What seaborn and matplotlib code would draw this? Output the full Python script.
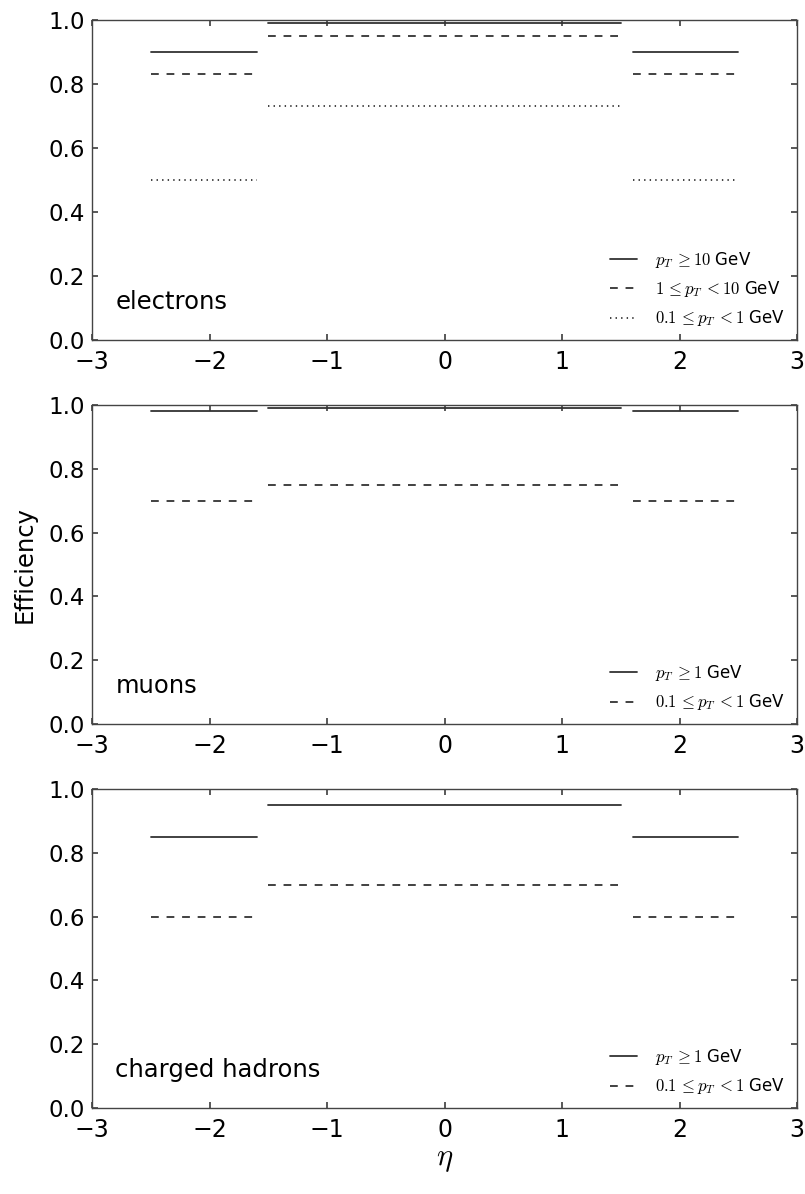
import numpy as np
import pandas as pd
import seaborn as sns
import matplotlib
matplotlib.use("Agg")
import matplotlib.pyplot as plt
from matplotlib.ticker import FormatStrFormatter

# eta bins: endcap (negative), barrel, endcap (positive)
seg_lo = [-2.5, -1.5, 1.6]
seg_hi = [-1.6, 1.5, 2.5]

# efficiencies per pT range, listed per eta segment
electron_high = [0.90, 0.99, 0.90]
electron_mid = [0.83, 0.95, 0.83]
electron_low = [0.50, 0.73, 0.50]
muon_high = [0.98, 0.99, 0.98]
muon_low = [0.70, 0.75, 0.70]
hadron_high = [0.85, 0.95, 0.85]
hadron_low = [0.60, 0.70, 0.60]

panel_names = ["electrons", "muons", "charged hadrons"]
electron_labels = [r"$p_T\,{\geq}10$ GeV", r"$1\,{\leq}p_T\,{<}10$ GeV",
                   r"$0.1\,{\leq}p_T\,{<}1$ GeV"]
muon_labels = [r"$p_T\,{\geq}1$ GeV", r"$0.1\,{\leq}p_T\,{<}1$ GeV"]
hadron_labels = [r"$p_T\,{\geq}1$ GeV", r"$0.1\,{\leq}p_T\,{<}1$ GeV"]
x_ticks = [-3, -2, -1, 0, 1, 2, 3]
y_ticks = [0.0, 0.2, 0.4, 0.6, 0.8, 1.0]

sns.set_theme(style="ticks")
plt.rcParams.update({
    "font.family": ["DejaVu Sans"],
    "mathtext.fontset": "cm",
    "text.color": "black",
    "axes.edgecolor": "#444444",
    "axes.linewidth": 1.0,
    "xtick.direction": "in",
    "ytick.direction": "in",
    "xtick.top": True,
    "ytick.right": True,
    "xtick.major.size": 4,
    "ytick.major.size": 4,
    "xtick.color": "#444444",
    "ytick.color": "#444444",
    "xtick.labelcolor": "black",
    "ytick.labelcolor": "black",
    "xtick.labelsize": 17,
    "ytick.labelsize": 16.5,
    "xtick.major.pad": 7,
    "ytick.major.pad": 5,
    "lines.dashed_pattern": [5.6, 5.6],
    "lines.dotted_pattern": [1.0, 3.0],
    "lines.scale_dashes": False,
})

line_styles = ["-", "--", ":"]


def segments_frame(values):
    rows = []
    for k, (lo, hi, v) in enumerate(zip(seg_lo, seg_hi, values)):
        rows.append({"eta": lo, "eff": v, "seg": k})
        rows.append({"eta": hi, "eff": v, "seg": k})
    return pd.DataFrame(rows)


panels = [
    ([electron_high, electron_mid, electron_low], electron_labels),
    ([muon_high, muon_low], muon_labels),
    ([hadron_high, hadron_low], hadron_labels),
]

fig = plt.figure(figsize=(8.05, 11.94), dpi=100)
positions = [
    [0.1143, 0.7152, 0.8758, 0.2680],
    [0.1143, 0.3936, 0.8758, 0.2672],
    [0.1143, 0.0720, 0.8758, 0.2672],
]

for pos, (series, labels), name in zip(positions, panels, panel_names):
    ax = fig.add_axes(pos)
    handles = []
    for vals, lab, ls in zip(series, labels, line_styles):
        df = segments_frame(vals)
        sns.lineplot(data=df, x="eta", y="eff", units="seg", estimator=None,
                     color="#333333", linewidth=1.3, linestyle=ls, ax=ax,
                     legend=False)
        handles.append(plt.Line2D([], [], color="#333333", linewidth=1.3,
                                  linestyle=ls, label=lab))
    ax.set_xlim(-3, 3)
    ax.set_ylim(0, 1)
    ax.set_xticks(x_ticks)
    ax.set_yticks(y_ticks)
    ax.yaxis.set_major_formatter(FormatStrFormatter("%.1f"))
    ax.set_xlabel("")
    ax.set_ylabel("")
    ax.text(0.033, 0.12, name, transform=ax.transAxes, ha="left",
            va="center", fontsize=17.5)
    ax.legend(handles=handles, loc="lower right", frameon=False,
              fontsize=12, handlelength=1.6, handletextpad=1.1,
              labelspacing=0.55, borderaxespad=0.3)

fig.text(0.031, 0.527, "Efficiency", rotation=90, ha="center", va="center",
         fontsize=17.5)
fig.text(0.552, 0.029, r"$\eta$", ha="center", va="center", fontsize=22)

fig.savefig("out.png", dpi=100)
